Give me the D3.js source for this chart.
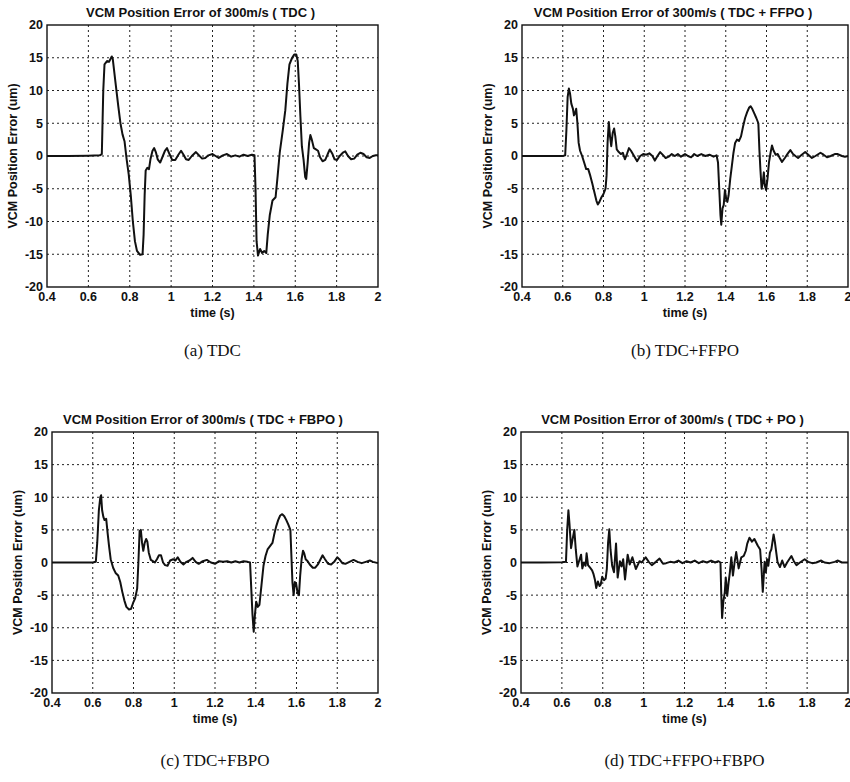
<!DOCTYPE html>
<html>
<head>
  <title>VCM Position Error</title>
  <style>
    body { margin: 0; background: #fff; }
    .grid line { stroke: #222; stroke-width: 1; stroke-dasharray: 2,3; }
    .frame { fill: none; stroke: #111; stroke-width: 1.4; }
    .trace { fill: none; stroke: #111; stroke-width: 2; stroke-linejoin: round; }
    .tick-label, .title, .axis-label {
      font-family: Arial, "Liberation Sans", sans-serif;
      font-weight: bold;
      fill: #111;
    }
    .tick-label { font-size: 12.5px; }
    .title { font-size: 13px; }
    .axis-label { font-size: 12.5px; }
    .caption { font-family: "Times New Roman", "Liberation Serif", serif; font-size: 17px; fill: #111; }
  </style>
  <script src="https://d3js.org/d3.v7.min.js"></script>
</head>
<body>
  <div id="chart"></div>
  <script>
    const width = 850;
    const height = 782;

    const xTicks = [0.4, 0.6, 0.8, 1, 1.2, 1.4, 1.6, 1.8, 2];
    const yTicks = [-20, -15, -10, -5, 0, 5, 10, 15, 20];

    const titles = [
      "VCM Position Error of 300m/s ( TDC )",
      "VCM Position Error of 300m/s ( TDC + FFPO )",
      "VCM Position Error of 300m/s ( TDC + FBPO )",
      "VCM Position Error of 300m/s ( TDC + PO )"
    ];
    const captions = ["(a) TDC", "(b) TDC+FFPO", "(c) TDC+FBPO", "(d) TDC+FFPO+FBPO"];

    // [time (s), error (um)]
    const errTDC = [[0.4,0],[0.5,0],[0.6,0.05],[0.655,0.1],[0.665,0.3],[0.672,10],[0.678,14],[0.69,14.5],[0.7,14.4],[0.713,15.2],[0.718,14.8],[0.73,11.5],[0.745,7.5],[0.755,5],[0.765,3.3],[0.775,2.2],[0.785,-0.5],[0.795,-2.8],[0.805,-6],[0.815,-10],[0.825,-13],[0.835,-14.5],[0.85,-15.1],[0.862,-15],[0.867,-12],[0.872,-6],[0.877,-2.2],[0.885,-1.8],[0.893,-2],[0.9,-0.5],[0.91,0.8],[0.918,1.2],[0.927,0.5],[0.935,-0.5],[0.947,-1],[0.96,0],[0.97,0.8],[0.98,1.2],[0.992,0.3],[1.005,-0.6],[1.02,-0.6],[1.035,0.2],[1.048,0.8],[1.06,0.2],[1.072,-0.5],[1.085,-0.6],[1.1,0],[1.12,0.6],[1.135,0.1],[1.15,-0.4],[1.165,-0.3],[1.18,0.1],[1.2,0.3],[1.215,0],[1.23,-0.3],[1.25,0.1],[1.27,0.3],[1.29,-0.1],[1.31,0.1],[1.33,-0.1],[1.35,0.2],[1.37,0],[1.39,0.2],[1.403,0.1],[1.408,-5],[1.413,-13],[1.42,-15.2],[1.43,-14.2],[1.44,-14.8],[1.45,-14.5],[1.46,-14.8],[1.467,-12],[1.477,-9],[1.49,-6.8],[1.505,-6.3],[1.515,-3],[1.525,0.5],[1.54,4],[1.552,7],[1.562,11],[1.572,14],[1.585,15],[1.595,15.5],[1.605,15.5],[1.612,14.5],[1.618,11],[1.625,6],[1.632,1.5],[1.64,-0.5],[1.648,-3.2],[1.653,-3.5],[1.66,-1],[1.667,2],[1.673,3.2],[1.68,2.5],[1.69,1.2],[1.7,1],[1.71,0.8],[1.72,-0.2],[1.732,-0.8],[1.745,-0.6],[1.757,0.3],[1.767,1],[1.78,0.3],[1.79,-0.5],[1.802,-0.6],[1.815,0],[1.83,0.5],[1.842,0.7],[1.855,0],[1.87,-0.5],[1.885,-0.4],[1.9,0.2],[1.915,0.5],[1.93,0.3],[1.945,-0.2],[1.96,-0.3],[1.975,0],[1.99,0.1],[2,0.1]];

    const errFFPO = [[0.4,0],[0.5,0],[0.6,0],[0.612,0.1],[0.618,4],[0.624,9],[0.63,10.3],[0.636,9.5],[0.642,8],[0.65,7.2],[0.655,6.2],[0.66,6.5],[0.666,7.2],[0.672,5],[0.678,2],[0.685,0.8],[0.695,0],[0.705,-1],[0.715,-2],[0.725,-2],[0.735,-3],[0.745,-4.2],[0.755,-5.5],[0.765,-6.8],[0.772,-7.4],[0.78,-7],[0.79,-6.3],[0.8,-5.8],[0.81,-5],[0.815,-3],[0.82,2],[0.826,5.2],[0.832,3],[0.838,1.5],[0.845,3.5],[0.852,4.2],[0.858,3],[0.865,1],[0.875,0.6],[0.885,0.3],[0.895,0.5],[0.905,-0.5],[0.915,0.3],[0.925,1.2],[0.935,0.8],[0.95,0],[0.965,-0.8],[0.98,0],[0.995,0.3],[1.01,0.2],[1.025,0.4],[1.04,0],[1.052,-0.7],[1.065,0],[1.078,0.6],[1.09,0.2],[1.105,-0.3],[1.12,-0.1],[1.135,0.3],[1.15,0],[1.165,0.3],[1.18,-0.1],[1.2,0.3],[1.215,0],[1.23,-0.2],[1.245,0.3],[1.26,0],[1.28,0.3],[1.3,0],[1.32,0.2],[1.34,-0.1],[1.355,0.1],[1.362,-1],[1.368,-5],[1.374,-9],[1.378,-10.5],[1.384,-8],[1.39,-7.5],[1.396,-5.2],[1.402,-6.5],[1.408,-7],[1.414,-6],[1.422,-3.5],[1.43,-1.5],[1.438,0.5],[1.446,2],[1.455,2.5],[1.465,2.3],[1.475,3],[1.485,4.5],[1.495,5.8],[1.505,6.7],[1.515,7.4],[1.522,7.6],[1.53,7.2],[1.54,6.5],[1.55,5.8],[1.56,5],[1.565,1],[1.57,-2],[1.576,-5],[1.582,-4],[1.587,-2.5],[1.592,-4.5],[1.598,-5.2],[1.605,-3.5],[1.612,-1],[1.62,0.5],[1.627,1.6],[1.635,0.8],[1.645,0.2],[1.655,0.3],[1.665,-0.3],[1.676,-0.9],[1.69,-0.3],[1.705,0.4],[1.717,0.9],[1.73,0.3],[1.742,0],[1.755,-0.3],[1.77,0.1],[1.79,0.6],[1.805,0.2],[1.823,-0.3],[1.84,0],[1.865,0.5],[1.88,0.2],[1.897,-0.2],[1.915,0],[1.935,0.3],[1.95,0.3],[1.97,0],[1.985,-0.1],[2,0]];

    const errFBPO = [[0.4,0],[0.5,0],[0.6,0],[0.615,0.1],[0.622,3],[0.63,8],[0.637,10],[0.641,10.3],[0.646,8],[0.652,7],[0.658,6.5],[0.666,6.7],[0.673,4.5],[0.68,2.5],[0.688,0.5],[0.7,-0.8],[0.712,-1.6],[0.725,-2],[0.735,-3],[0.745,-4.5],[0.755,-5.8],[0.765,-6.8],[0.778,-7.2],[0.788,-7.1],[0.798,-6.2],[0.808,-5.5],[0.818,-4],[0.824,0],[0.83,4.8],[0.836,5],[0.842,3],[0.848,1.8],[0.855,3],[0.862,3.6],[0.868,3.2],[0.875,1.5],[0.885,0.4],[0.895,0.2],[0.905,0],[0.915,0.5],[0.925,1.1],[0.935,1.1],[0.945,0],[0.955,-0.4],[0.967,-0.5],[0.98,0.3],[0.995,0.5],[1.005,0.3],[1.017,0.8],[1.03,0.1],[1.045,-0.3],[1.06,0.1],[1.075,0.3],[1.09,0.7],[1.105,0.1],[1.12,-0.2],[1.14,0.2],[1.16,0.4],[1.18,0],[1.2,-0.2],[1.22,0.2],[1.24,0.1],[1.26,0.2],[1.28,0],[1.3,0.2],[1.32,0],[1.34,0.2],[1.36,0.1],[1.372,0],[1.378,-4],[1.384,-8],[1.39,-10.6],[1.396,-8],[1.402,-6],[1.41,-6.8],[1.418,-6.5],[1.428,-3.5],[1.438,-0.5],[1.448,1],[1.458,2],[1.47,2.5],[1.482,3],[1.49,4.2],[1.5,5.5],[1.51,6.5],[1.52,7.2],[1.53,7.4],[1.54,7.1],[1.55,6.5],[1.56,5.8],[1.57,5],[1.575,1],[1.58,-3],[1.586,-5],[1.592,-3],[1.598,-3.2],[1.605,-4.6],[1.612,-5],[1.618,-2],[1.625,0.5],[1.632,1.8],[1.638,1.4],[1.645,0.5],[1.655,0.2],[1.665,-0.3],[1.68,-0.8],[1.692,-0.8],[1.705,-0.3],[1.718,0.5],[1.728,1.1],[1.74,0.5],[1.755,-0.2],[1.77,-0.3],[1.785,0.1],[1.8,0.8],[1.81,0.5],[1.825,-0.1],[1.84,-0.2],[1.86,0.1],[1.88,0.4],[1.9,0.1],[1.92,-0.1],[1.94,0.1],[1.96,0.3],[1.975,0.1],[2,-0.1]];

    const errPO = [[0.4,0],[0.5,0],[0.6,0.05],[0.62,0.1],[0.626,5],[0.632,8],[0.637,6],[0.645,2.2],[0.652,3.5],[0.661,5],[0.668,2],[0.676,-0.6],[0.685,0.3],[0.694,1.2],[0.7,-0.9],[0.708,0],[0.716,-0.5],[0.721,1.4],[0.728,-0.4],[0.738,-0.8],[0.748,-1.2],[0.754,-1.7],[0.762,-2.7],[0.768,-3.9],[0.776,-2.9],[0.784,-3.6],[0.79,-3.4],[0.797,-2.2],[0.806,-2.7],[0.814,-2.5],[0.82,-1],[0.826,3],[0.832,5.1],[0.838,2],[0.846,-0.5],[0.855,-1.5],[0.865,2.9],[0.873,-2.3],[0.884,0.2],[0.892,-0.6],[0.9,0.5],[0.909,-2.6],[0.922,1.2],[0.932,-0.3],[0.945,0.8],[0.962,-1.0],[0.98,0.2],[0.99,0],[1.01,0.8],[1.025,0.1],[1.04,-0.4],[1.06,0.1],[1.078,0.6],[1.095,-0.2],[1.11,-0.1],[1.13,0.1],[1.15,0],[1.17,0.3],[1.19,-0.1],[1.21,0.2],[1.23,0],[1.25,0.3],[1.27,-0.1],[1.29,0.2],[1.31,0],[1.33,0.3],[1.35,0],[1.365,0.2],[1.376,0],[1.38,-5],[1.384,-8.5],[1.39,-6],[1.397,-4.6],[1.402,-2.3],[1.409,-5.1],[1.416,-3],[1.422,-1.5],[1.429,0.8],[1.437,-2.0],[1.445,0],[1.453,1.6],[1.465,-0.9],[1.478,0.8],[1.49,1],[1.5,1.8],[1.507,2.9],[1.518,3.8],[1.53,3.2],[1.542,3.6],[1.558,2.6],[1.57,2],[1.577,-1],[1.583,-4.5],[1.588,-2],[1.592,0.1],[1.598,-1.5],[1.604,0.5],[1.61,-0.5],[1.618,1.5],[1.625,2.0],[1.636,4.3],[1.642,3.2],[1.655,0.1],[1.667,-0.7],[1.678,0.3],[1.69,-0.7],[1.702,0],[1.723,1.0],[1.735,0.2],[1.748,-0.4],[1.765,0],[1.788,0.5],[1.805,0.1],[1.825,-0.1],[1.845,0],[1.869,0.3],[1.885,0],[1.91,-0.1],[1.935,0.1],[1.951,0.3],[1.97,0],[2,0]];

    const series = [errTDC, errFFPO, errFBPO, errPO];

    // plot boxes in page pixels
    const panels = [
      { left: 47,  top: 25,  w: 331, h: 262, capY: 356 },
      { left: 522, top: 25,  w: 326, h: 262, capY: 356 },
      { left: 52,  top: 432, w: 326, h: 261, capY: 766 },
      { left: 521, top: 432, w: 327, h: 261, capY: 766 }
    ];

    const svg = d3.select("#chart")
      .append("svg")
      .attr("width", width)
      .attr("height", height);

    panels.forEach((p, i) => {
      const x = d3.scaleLinear().domain([0.4, 2]).range([0, p.w]);
      const y = d3.scaleLinear().domain([-20, 20]).range([p.h, 0]);

      const g = svg.append("g")
        .attr("transform", `translate(${p.left},${p.top})`);

      const grid = g.append("g").attr("class", "grid");
      grid.selectAll(".gx")
        .data(xTicks.slice(1, -1))
        .enter()
        .append("line")
        .attr("x1", d => x(d)).attr("x2", d => x(d))
        .attr("y1", 0).attr("y2", p.h);
      grid.selectAll(".gy")
        .data(yTicks.slice(1, -1))
        .enter()
        .append("line")
        .attr("y1", d => y(d)).attr("y2", d => y(d))
        .attr("x1", 0).attr("x2", p.w);

      const line = d3.line()
        .x(d => x(d[0]))
        .y(d => y(d[1]));

      g.append("path")
        .datum(series[i])
        .attr("class", "trace")
        .attr("d", line);

      g.append("rect")
        .attr("class", "frame")
        .attr("width", p.w)
        .attr("height", p.h);

      g.selectAll(".ytl")
        .data(yTicks)
        .enter()
        .append("text")
        .attr("class", "tick-label")
        .attr("x", -4)
        .attr("y", d => y(d))
        .attr("dy", "0.35em")
        .attr("text-anchor", "end")
        .text(d => d);

      g.selectAll(".xtl")
        .data(xTicks)
        .enter()
        .append("text")
        .attr("class", "tick-label")
        .attr("x", d => x(d))
        .attr("y", p.h + 14)
        .attr("text-anchor", "middle")
        .text(d => d);

      g.append("text")
        .attr("class", "title")
        .attr("x", p.w / 2 - 12)
        .attr("y", -8)
        .attr("text-anchor", "middle")
        .text(titles[i]);

      g.append("text")
        .attr("class", "axis-label")
        .attr("x", p.w / 2)
        .attr("y", p.h + 30)
        .attr("text-anchor", "middle")
        .text("time (s)");

      g.append("text")
        .attr("class", "axis-label")
        .attr("transform", `translate(-30,${p.h / 2}) rotate(-90)`)
        .attr("text-anchor", "middle")
        .text("VCM Position Error (um)");

      svg.append("text")
        .attr("class", "caption")
        .attr("x", p.left + p.w / 2)
        .attr("y", p.capY)
        .attr("text-anchor", "middle")
        .text(captions[i]);
    });
  </script>
</body>
</html>
